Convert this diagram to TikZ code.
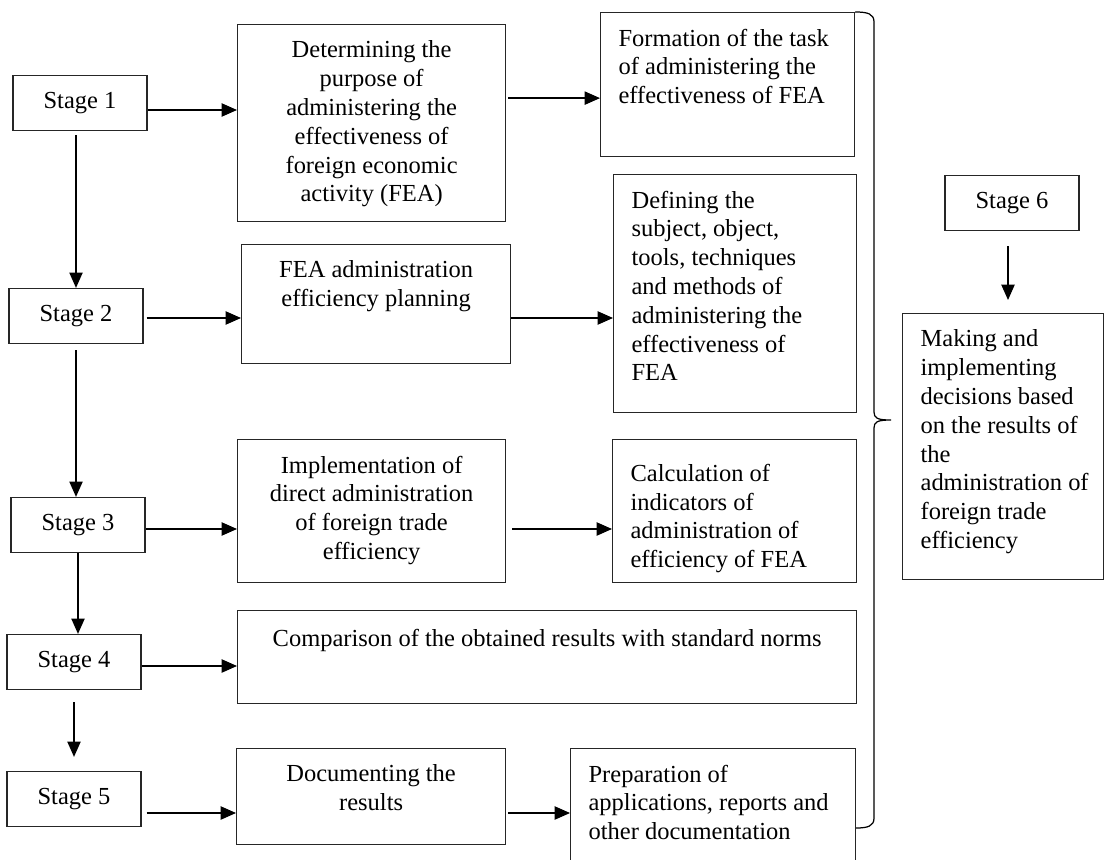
\documentclass[tikz,border=0pt]{standalone}
\usepackage{fontspec}
\setmainfont{Liberation Serif}
\usepackage{tikz}
\usetikzlibrary{arrows.meta}

\newlength\pxu
\setlength\pxu{0.49pt}
% box text, top aligned: [top pad]{width}{height}{text}
\newcommand{\midtext}[4][8pt]{\parbox[c][#3\pxu][t]{#2\pxu}{\vspace*{#1}\centering #4\par}}
\newcommand{\lefttext}[4][8pt]{\parbox[c][#3\pxu][t]{#2\pxu}{\vspace*{#1}\raggedright\leftskip=18\pxu #4\par}}

\begin{document}
\begin{tikzpicture}[x=0.49pt, y=-0.49pt,
    blk/.style={draw=black!85, line width=0.6pt, inner sep=0pt, anchor=north west, font=\fontsize{12}{14.1}\selectfont},
    stagebox/.style={draw=black!85, line width=0.6pt, minimum width=134\pxu, minimum height=55\pxu, inner sep=0pt, font=\fontsize{12}{14.1}\selectfont},
    arr/.style={-{Triangle[length=7.5pt,width=6.5pt]}, line width=0.6pt}]
        \useasboundingbox (0,0) rectangle (1105,859);
        \fill[white] (0,0) rectangle (1105,859);

            \foreach \n/\x/\y in {1/80/103, 2/76/316, 3/78/525, 4/74/662, 5/74/799, 6/1012/203}{
              \node[stagebox] (s\n) at (\x,\y) {Stage \n};
            }

            \node[blk] (det) at (237,24) {\midtext{268}{197}{Determining the\\ purpose of\\ administering the\\ effectiveness of\\ foreign economic\\ activity (FEA)}};
            \node[blk] (form) at (600,12) {\lefttext{254}{144}{Formation of the task\\ of administering the\\ effectiveness of FEA}};
            \node[blk] (fea) at (241,244) {\midtext{269}{119}{FEA administration\\ efficiency planning}};
            \node[blk] (def) at (613,174) {\lefttext{243}{238}{Defining the\\ subject, object,\\ tools, techniques\\ and methods of\\ administering the\\ effectiveness of\\ FEA}};
            \node[blk] (impl) at (237,439) {\midtext{268}{143}{Implementation of\\ direct administration\\ of foreign trade\\ efficiency}};
            \node[blk] (calc) at (612,439) {\lefttext[12pt]{244}{143}{Calculation of\\ indicators of\\ administration of\\ efficiency of FEA}};
            \node[blk] (comp) at (237,610) {\midtext[9pt]{619}{93}{Comparison of the obtained results with standard norms}};
            \node[blk] (doc) at (236,748) {\midtext{269}{96}{Documenting the\\ results}};
            \node[blk] (prep) at (570,748) {\lefttext{285}{120}{Preparation of\\ applications, reports and\\ other documentation}};
            \node[blk] (make) at (902,313) {\lefttext{201}{266}{Making and\\ implementing\\ decisions based\\ on the results of\\ the\\ administration of\\ foreign trade\\ efficiency}};

            % arrow heights
            \coordinate (h1) at ([yshift=-7\pxu]s1.east);
            \coordinate (h1b) at ([yshift=25\pxu]det.east);
            \coordinate (h2) at ([yshift=-2\pxu]s2.east);
            \coordinate (h3) at ([yshift=-4\pxu]s3.east);
            \coordinate (h4) at ([yshift=-4\pxu]s4.east);
            \coordinate (h5) at ([yshift=-14\pxu]s5.east);
            \coordinate (v6) at ([xshift=-4\pxu]s6.south);

            \draw[arr] (h1) -- (h1 -| det.west);
            \draw[arr, shorten <=2\pxu] (h1b) -- (h1b -| form.west);
            \draw[arr, shorten <=3\pxu] (h2) -- (h2 -| fea.west);
            \draw[arr] (h2 -| fea.east) -- (h2 -| def.west);
            \draw[arr] (h3) -- (h3 -| impl.west);
            \draw[arr, shorten <=6\pxu] (h3 -| impl.east) -- (h3 -| calc.west);
            \draw[arr] (h4) -- (h4 -| comp.west);
            \draw[arr, shorten <=5\pxu] (h5) -- (h5 -| doc.west);
            \draw[arr, shorten <=2\pxu] (h5 -| doc.east) -- (h5 -| prep.west);

            \draw[arr, shorten <=4\pxu] (s1.south -| s2.north) -- (s2.north);
            \draw[arr, shorten <=6\pxu] (s2.south) -- (s2.south |- s3.north);
            \draw[arr] (s3.south) -- (s3.south |- s4.north);
            \draw[arr, shorten <=12\pxu, shorten >=14\pxu] (s4.south) -- (s4.south |- s5.north);
            \draw[arr, shorten <=15\pxu, shorten >=13\pxu] (v6) -- (v6 |- make.north);

            % brace
            \draw[line width=0.6pt] (form.north east) .. controls (868,12) and (874,14) .. (874,22) -- (874,412)
              .. controls (874,418) and (877,420) .. (891,420) .. controls (877,420) and (874,422) .. (874,428)
              -- (874,818) .. controls (874,826) and (868,828) .. (856,828);
        \end{tikzpicture}
\end{document}
